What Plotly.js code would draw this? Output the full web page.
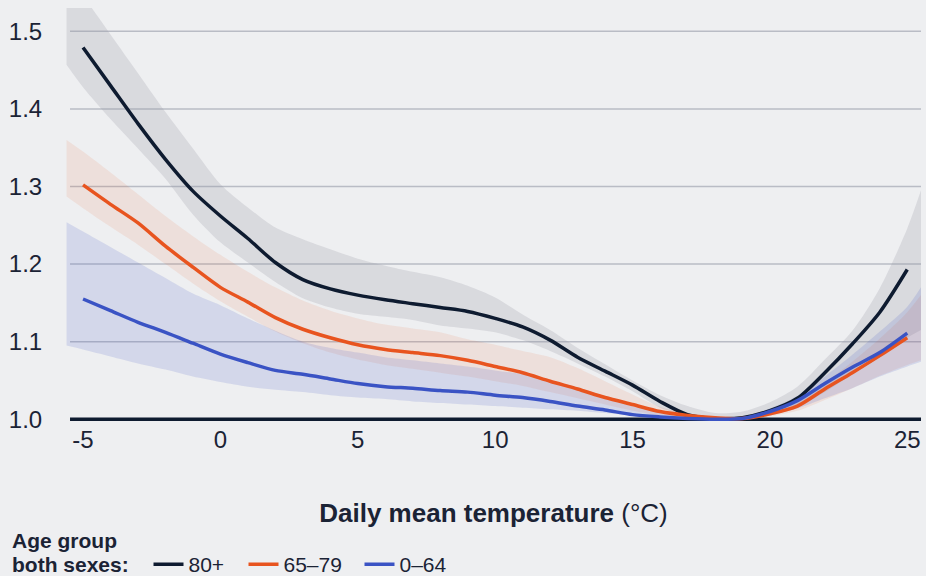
<!DOCTYPE html>
<html>
<head>
<meta charset="utf-8">
<script src="https://cdn.plot.ly/plotly-3.0.1.min.js"></script>
<style>
  html, body { margin: 0; padding: 0; background: #EEEFF1; }
  #chart { width: 926px; height: 576px; }
</style>
</head>
<body>
<div id="chart"></div>
<script>
// ---- Data ----
const temps = [-5,-4,-3,-2,-1,0,1,2,3,4,5,6,7,8,9,10,11,12,13,14,15,16,17,18,19,20,21,22,23,24,25];
const bandTemps = [-5.6,-5,-4,-3,-2,-1,0,1,2,3,4,5,6,7,8,9,10,11,12,13,14,15,16,17,18,19,20,21,22,23,24,25,25.5];

const rr80 = [1.479,1.430,1.381,1.335,1.294,1.262,1.233,1.202,1.180,1.168,1.160,1.154,1.149,1.144,1.139,1.130,1.119,1.102,1.080,1.062,1.044,1.023,1.006,1.001,1.002,1.011,1.027,1.060,1.097,1.138,1.193];
const rr80Upper = [1.577,1.546,1.496,1.446,1.396,1.349,1.303,1.273,1.247,1.232,1.219,1.207,1.198,1.190,1.183,1.172,1.157,1.135,1.115,1.092,1.071,1.050,1.031,1.017,1.008,1.010,1.022,1.042,1.077,1.114,1.169,1.246,1.295];
const rr80Lower = [1.457,1.428,1.387,1.349,1.310,1.264,1.228,1.202,1.177,1.156,1.144,1.136,1.132,1.128,1.121,1.117,1.112,1.102,1.088,1.072,1.055,1.036,1.015,1.005,1.001,1.001,1.005,1.015,1.035,1.058,1.080,1.105,1.115];

const rr65 = [1.302,1.277,1.253,1.223,1.196,1.170,1.151,1.131,1.116,1.105,1.096,1.090,1.086,1.082,1.076,1.068,1.060,1.049,1.039,1.028,1.019,1.010,1.005,1.002,1.001,1.007,1.017,1.039,1.060,1.082,1.105];
const rr65Upper = [1.360,1.345,1.318,1.290,1.262,1.236,1.212,1.190,1.170,1.153,1.140,1.130,1.122,1.117,1.112,1.103,1.096,1.088,1.080,1.066,1.049,1.032,1.016,1.007,1.003,1.002,1.010,1.024,1.047,1.074,1.104,1.138,1.160];
const rr65Lower = [1.287,1.272,1.248,1.225,1.200,1.175,1.152,1.132,1.113,1.098,1.086,1.077,1.070,1.065,1.060,1.055,1.049,1.043,1.035,1.027,1.019,1.011,1.005,1.002,1.000,1.000,1.004,1.011,1.025,1.040,1.056,1.070,1.076];

const rr0 = [1.155,1.140,1.125,1.112,1.098,1.084,1.073,1.063,1.058,1.052,1.046,1.042,1.040,1.037,1.035,1.031,1.028,1.023,1.017,1.012,1.006,1.003,1.001,1.000,1.001,1.010,1.024,1.046,1.067,1.086,1.111];
const rr0Upper = [1.254,1.242,1.222,1.202,1.182,1.162,1.147,1.130,1.114,1.100,1.092,1.086,1.080,1.076,1.072,1.068,1.063,1.058,1.050,1.041,1.030,1.020,1.010,1.004,1.000,1.003,1.014,1.030,1.055,1.083,1.113,1.145,1.170];
const rr0Lower = [1.095,1.090,1.081,1.072,1.064,1.055,1.048,1.042,1.038,1.035,1.031,1.028,1.026,1.023,1.021,1.019,1.017,1.015,1.013,1.011,1.008,1.005,1.002,1.0006,1.000,1.000,1.006,1.014,1.027,1.040,1.055,1.068,1.074];

const seriesNames = ["80+", "65–79", "0–64"];
const legendTitleLines = ["Age group", "both sexes:"];
const xTickVals = [-5,0,5,10,15,20,25];
const xTickText = ["-5","0","5","10","15","20","25"];
const yTickVals = [1.0,1.1,1.2,1.3,1.4,1.5];
const yTickText = ["1.0","1.1","1.2","1.3","1.4","1.5"];
const baseline = 1.0;

// ---- Styles ----
const colors = ["#0E1B30", "#E8541F", "#3A53C4"];
const bandColors = ["rgba(150,152,162,0.24)", "rgba(232,84,31,0.10)", "rgba(58,83,196,0.15)"];
const legendWidths = [50, 71, 50];
const FONT = "Liberation Sans, Arial, Helvetica, sans-serif";
const TXT = "#1B2335";

function band(lower, upper, color) {
  return [
    {x: bandTemps, y: lower, type: "scatter", mode: "lines", line: {width: 0, shape: "spline", smoothing: 0.8},
     hoverinfo: "skip", showlegend: false},
    {x: bandTemps, y: upper, type: "scatter", mode: "lines", line: {width: 0, shape: "spline", smoothing: 0.8},
     fill: "tonexty", fillcolor: color, hoverinfo: "skip", showlegend: false}
  ];
}
function line(y, i) {
  return {x: temps, y: y, type: "scatter", mode: "lines", name: seriesNames[i],
          legendwidth: legendWidths[i],
          line: {color: colors[i], width: 3.5, shape: "spline", smoothing: 0.8}};
}

const data = [
  ...band(rr80Lower, rr80Upper, bandColors[0]),
  ...band(rr65Lower, rr65Upper, bandColors[1]),
  ...band(rr0Lower, rr0Upper, bandColors[2]),
  line(rr80, 0),
  line(rr65, 1),
  line(rr0, 2)
];

// gridlines (except the baseline) and the dark baseline
const shapes = yTickVals.filter(v => v !== baseline).map(v => ({
  type: "line", xref: "paper", yref: "y", x0: 0.0047, x1: 1, y0: v, y1: v,
  line: {color: "#B9BCC5", width: 1.5}, layer: "below"
}));
shapes.push({type: "line", xref: "paper", yref: "y", x0: 0.0047, x1: 1, y0: baseline, y1: baseline,
  line: {color: "#0E1B30", width: 3.5}, layer: "between"});

const layout = {
  width: 926, height: 576,
  paper_bgcolor: "#EEEFF1", plot_bgcolor: "#EEEFF1",
  margin: {l: 66, r: 5, t: 8, b: 153},
  font: {family: FONT, color: TXT},
  xaxis: {
    range: [-5.62, 25.5], tickvals: xTickVals, ticktext: xTickText,
    showgrid: false, zeroline: false, showline: false,
    ticks: "",
    tickfont: {size: 24, color: TXT, family: FONT},
    title: {text: "<b>Daily mean temperature</b> (°C)", font: {size: 26, color: TXT, family: FONT}, standoff: 51}
  },
  yaxis: {
    range: [0.9952, 1.53], tickvals: yTickVals, ticktext: yTickText,
    showgrid: false, zeroline: false, showline: false,
    ticks: "outside", ticklen: 18, tickcolor: "rgba(0,0,0,0)",
    tickfont: {size: 24, color: TXT, family: FONT}
  },
  shapes: shapes,
  showlegend: true,
  legend: {
    orientation: "h", traceorder: "normal", xref: "paper", x: 0.0965, xanchor: "left",
    yref: "container", y: 0.02, yanchor: "middle",
    font: {size: 21, color: TXT, family: FONT}, bgcolor: "rgba(0,0,0,0)"
  },
  annotations: [
    {text: "<b>" + legendTitleLines[0] + "</b>", xref: "paper", yref: "paper",
     x: -0.0655, y: -0.2843, xanchor: "left", yanchor: "middle", align: "left",
     showarrow: false, font: {size: 21, color: TXT, family: FONT}},
    {text: "<b>" + legendTitleLines[1] + "</b>", xref: "paper", yref: "paper",
     x: -0.0655, y: -0.3398, xanchor: "left", yanchor: "middle", align: "left",
     showarrow: false, font: {size: 21, color: TXT, family: FONT}}
  ]
};

Plotly.newPlot("chart", data, layout, {displayModeBar: false, staticPlot: true});
</script>
</body>
</html>
